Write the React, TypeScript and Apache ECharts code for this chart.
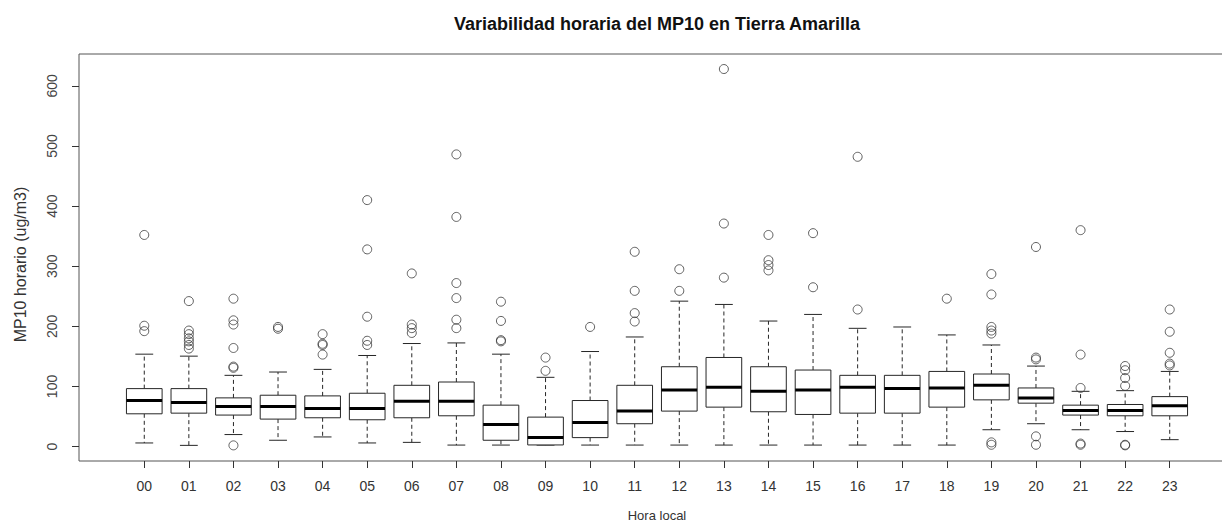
import React, { useEffect, useRef } from "react";
import * as echarts from "echarts";

// Hourly MP10 distribution, one box per local hour
const hours = ["00","01","02","03","04","05","06","07","08","09","10","11","12","13","14","15","16","17","18","19","20","21","22","23"];
const whiskerLow = [6, 2, 20, 10.5, 16, 6, 7, 2.5, 2.5, 2.5, 2.5, 2.5, 2.5, 2.5, 2.5, 2.5, 2.5, 2.5, 2.5, 28, 38, 28, 25, 11.5];
const quartile1 = [54.5, 55.6, 52.4, 45.7, 47.9, 44.6, 47.9, 51.2, 10.5, 2.7, 14.9, 38, 59, 65.6, 57.9, 53.4, 55.6, 55.6, 65.6, 77.7, 72.2, 52.4, 51.2, 51.2];
const medians = [76.6, 73.3, 66.7, 66.7, 63.4, 63.4, 75.5, 75.5, 36.9, 14.9, 40.2, 59, 94.2, 98.6, 91.9, 94.2, 98.6, 96.4, 97.5, 101.9, 81, 60, 60, 67.8];
const quartile3 = [96.4, 96.4, 81, 85.4, 84.3, 88.7, 101.9, 107.4, 68.9, 49, 76.6, 101.9, 132.8, 148.2, 132.8, 127.3, 118.5, 118.5, 125, 120.7, 97.5, 68.9, 70, 83.1];
const whiskerHigh = [153.7, 150.4, 118.5, 124, 128.4, 151.5, 171.4, 172.4, 153.7, 115.2, 158.1, 182.3, 241.9, 236.4, 208.8, 219.8, 196.7, 198.9, 185.7, 169, 133.9, 91.9, 93, 125];
const outliers = [
  [352, 201, 192],
  [242, 193, 187, 180, 175, 169, 163],
  [246, 210, 203, 164, 133, 131, 2],
  [199, 196],
  [187, 171, 169, 153],
  [410, 328, 216, 176, 169],
  [288, 203, 197, 189],
  [486, 382, 272, 247, 211, 197],
  [241, 209, 177, 175],
  [148, 126],
  [199],
  [324, 259, 222, 208],
  [295, 259],
  [628, 371, 281],
  [352, 310, 302, 293],
  [355, 265],
  [482, 228],
  [],
  [246],
  [287, 253, 199, 193, 188, 7, 3],
  [332, 148, 145, 17, 3],
  [360, 153, 97.5, 5, 3],
  [134, 127, 114, 101, 3, 2],
  [228, 191, 156, 138, 135],
];
const yTicks = [0, 100, 200, 300, 400, 500, 600];

const FONT = "Liberation Sans, Arial, sans-serif";

export default function App() {
  const ref = useRef<HTMLDivElement>(null);

  useEffect(() => {
    if (!ref.current) return;
    const chart = echarts.init(ref.current, null, { renderer: "svg" });

    const boxData = hours.map((_, i) => [i, whiskerLow[i], quartile1[i], medians[i], quartile3[i], whiskerHigh[i]]);
    const outlierData: number[][] = [];
    outliers.forEach((vals, i) => vals.forEach((v) => outlierData.push([i, v])));

    const renderBox = (params: any, api: any) => {
      const x = api.value(0);
      const lo = api.coord([x, api.value(1)]);
      const q1 = api.coord([x, api.value(2)]);
      const md = api.coord([x, api.value(3)]);
      const q3 = api.coord([x, api.value(4)]);
      const hi = api.coord([x, api.value(5)]);
      const half = api.size([0.8, 0])[0] / 2;
      const staple = half / 2;
      const cx = lo[0];
      const stroke = "#262626";
      const dashed = { stroke, lineWidth: 1, lineDash: [4, 3] };
      const solid = { stroke, lineWidth: 1 };
      return {
        type: "group",
        children: [
          { type: "line", shape: { x1: cx, y1: q3[1], x2: cx, y2: hi[1] }, style: dashed },
          { type: "line", shape: { x1: cx, y1: q1[1], x2: cx, y2: lo[1] }, style: dashed },
          { type: "line", shape: { x1: cx - staple, y1: hi[1], x2: cx + staple, y2: hi[1] }, style: solid },
          { type: "line", shape: { x1: cx - staple, y1: lo[1], x2: cx + staple, y2: lo[1] }, style: solid },
          {
            type: "rect",
            shape: { x: cx - half, y: q3[1], width: half * 2, height: q1[1] - q3[1] },
            style: { fill: "#ffffff", stroke, lineWidth: 1 },
          },
          { type: "line", shape: { x1: cx - half, y1: md[1], x2: cx + half, y2: md[1] }, style: { stroke: "#000", lineWidth: 3 } },
        ],
      };
    };

    chart.setOption({
      animation: false,
      backgroundColor: "#ffffff",
      title: {
        text: "Variabilidad horaria del MP10 en Tierra Amarilla",
        left: 652,
        top: 10,
        textAlign: "center",
        textStyle: { fontFamily: FONT, fontSize: 18, fontWeight: "bold", color: "#111" },
      },
      grid: {
        left: 79,
        right: 25,
        top: 54,
        bottom: 64,
        show: true,
        borderColor: "#555",
        borderWidth: 1,
        backgroundColor: "transparent",
      },
      xAxis: {
        type: "value",
        min: -1.464,
        max: 24.464,
        name: "Hora local",
        nameLocation: "middle",
        nameGap: 48,
        nameTextStyle: { fontFamily: FONT, fontSize: 13, color: "#333" },
        axisLine: { show: false, onZero: false },
        splitLine: { show: false },
        axisTick: {
          show: true,
          length: 7,
          lineStyle: { color: "#333" },
          customValues: hours.map((_, i) => i),
        },
        axisLabel: {
          fontFamily: FONT,
          fontSize: 14,
          color: "#333",
          margin: 18,
          customValues: hours.map((_, i) => i),
          formatter: (v: number) => hours[Math.round(v)] ?? "",
        },
      },
      yAxis: {
        type: "value",
        min: -24,
        max: 653,
        name: "MP10 horario (ug/m3)",
        nameLocation: "middle",
        nameGap: 51,
        nameTextStyle: { fontFamily: FONT, fontSize: 16, color: "#333", padding: [0, 0, 0, -14] },
        axisLine: { show: false, onZero: false },
        splitLine: { show: false },
        axisTick: {
          show: true,
          length: 7,
          lineStyle: { color: "#333" },
          customValues: yTicks,
        },
        axisLabel: {
          fontFamily: FONT,
          fontSize: 14,
          color: "#444",
          rotate: 90,
          margin: 20,
          customValues: yTicks,
        },
      },
      series: [
        {
          type: "custom",
          renderItem: renderBox,
          data: boxData,
          encode: { x: 0, y: [1, 2, 3, 4, 5] },
          z: 2,
        },
        {
          type: "scatter",
          data: outlierData,
          symbol: "circle",
          symbolSize: 9,
          itemStyle: { color: "rgba(0,0,0,0)", borderColor: "#3a3a3a", borderWidth: 1 },
          z: 3,
        },
      ],
    });

    return () => chart.dispose();
  }, []);

  return (
    <div
      ref={ref}
      style={{ position: "fixed", left: 0, top: 0, width: 1260, height: 527 }}
    />
  );
}
